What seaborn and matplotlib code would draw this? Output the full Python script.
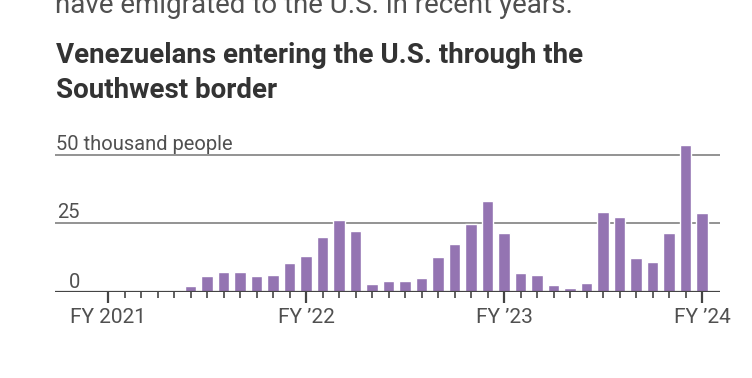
import matplotlib
matplotlib.use("Agg")
import matplotlib.pyplot as plt
import matplotlib.transforms as mtransforms
import pandas as pd
import seaborn as sns

# monthly Venezuelan encounters, Oct 2020 - Oct 2023 (thousands)
months = pd.period_range("2020-10", "2023-10", freq="M").strftime("%Y-%m").tolist()
entrants = [0.1, 0.1, 0.1, 0.2, 0.8, 2.2, 5.7, 7.2, 7.2, 5.7, 6.0, 10.5,
            13.0, 19.8, 26.3, 22.0, 2.9, 3.8, 4.0, 4.9, 12.8, 17.3, 24.7, 33.1,
            21.3, 6.7, 6.0, 2.3, 1.5, 3.2, 29.1, 27.4, 12.3, 10.9, 21.5, 53.6,
            28.6]
fy_ticks = [0, 12, 24, 36]
fy_labels = ["FY 2021", "FY \u201922", "FY \u201923", "FY \u201924"]
y_levels = [0, 25, 50]
y_labels = ["0", "25", "50 thousand people"]

BAR = "#9474b2"
TXT = "#333333"
GREY = "#505050"
W, H = 752, 378

sns.set_theme(style="white")
plt.rcParams["font.family"] = ["Roboto", "DejaVu Sans"]

df = pd.DataFrame({"month": months, "value": entrants})

fig = plt.figure(figsize=(W / 100, H / 100), dpi=100)
ax = fig.add_axes([55 / W, 1 - 291.7 / H, 665 / W, (291.7 - 138.3) / H])

sns.barplot(data=df, x="month", y="value", color=BAR, width=0.7,
            saturation=1, ax=ax, zorder=3)

ax.set_xlim((55 - 108) / 16.5, (720 - 108) / 16.5)
ax.set_ylim(0, 56)
ax.set_xlabel("")
ax.set_ylabel("")
for s in ax.spines.values():
    s.set_visible(False)

# gridlines and baseline
for lv in y_levels[1:]:
    ax.axhline(lv, color="#8a8a8a", lw=1.3, zorder=1)
ax.axhline(0, color="#444444", lw=1.6, zorder=4)

# y labels above the lines; numbers share a right edge
for lv, lab in zip(y_levels, y_labels):
    shift = mtransforms.ScaledTranslation(0, (4 if lv == 0 else 5) / 100, fig.dpi_scale_trans)
    if lv == 50:
        xa, ha = 56, "left"
    else:
        xa, ha = 80, "right"
    tr = mtransforms.blended_transform_factory(ax.transAxes, ax.transData)
    ax.text((xa - 55) / 665, lv, lab, transform=tr + shift, ha=ha, va="baseline",
            fontsize=14.5, color=GREY)
ax.set_yticks([])

# month ticks and fiscal-year labels
ax.set_xticks(range(len(months)), minor=True)
ax.set_xticks(fy_ticks)
ax.set_xticklabels(fy_labels, fontsize=15, color=GREY)
ax.tick_params(axis="x", which="minor", length=4, width=1.2, color="#444444",
               direction="out", bottom=True)
ax.tick_params(axis="x", which="major", length=8, width=1.6, color="#444444",
               direction="out", bottom=True, pad=4)

# header text (the first line is cut off by the top edge, as in the source)
fig.text(55 / W, 1 - 13 / H, "have emigrated to the U.S. in recent years.",
         fontsize=20, color=GREY, va="baseline", ha="left")
fig.text(56 / W, 1 - 63 / H, "Venezuelans entering the U.S. through the",
         fontsize=20, fontweight="bold", color=TXT, va="baseline", ha="left")
fig.text(56 / W, 1 - 98 / H, "Southwest border",
         fontsize=20, fontweight="bold", color=TXT, va="baseline", ha="left")

fig.savefig("out.png", dpi=100, facecolor="white")
